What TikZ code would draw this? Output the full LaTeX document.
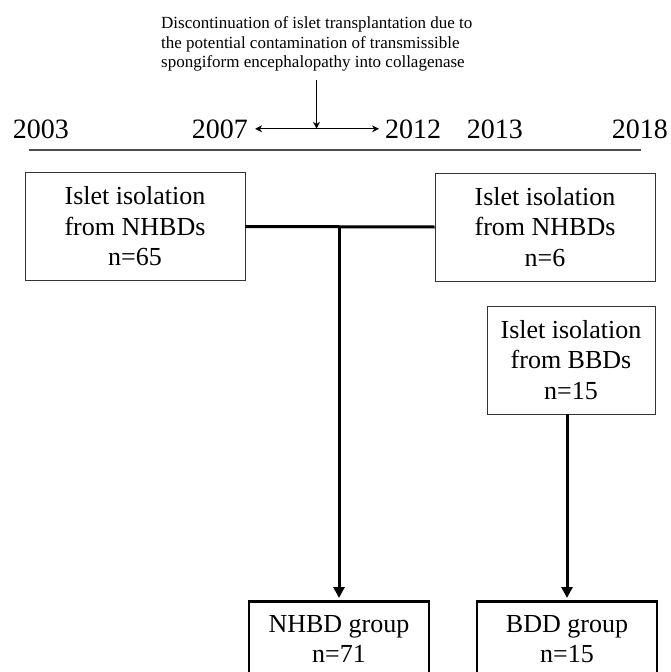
\documentclass[tikz,border=0pt]{standalone}
\usepackage{fontspec}
\setmainfont{Liberation Serif}
\usetikzlibrary{arrows.meta,positioning,calc}

\begin{document}
\begin{tikzpicture}[x=1bp, y=-1bp,
    yearlabel/.style={anchor=base west, inner sep=0pt, font=\fontsize{28bp}{32bp}\selectfont},
    isobox/.style={draw=black!80, line width=0.9bp, minimum width=#1, minimum height=108bp, inner sep=0pt, align=center, font=\fontsize{26bp}{30.5bp}\selectfont},
    isobox/.default=220bp,
    groupbox/.style={draw=black, line width=2.6bp, minimum width=180bp, inner ysep=14bp, align=center, anchor=north, font=\fontsize{26bp}{30.5bp}\selectfont},
    flowline/.style={line width=3bp},
    thinarrow/.style={line width=0.9bp}
]
    \useasboundingbox (0,0) rectangle (671,672);
    \clip (0,0) rectangle (671,672);

    % Note above the timeline
    \node[anchor=north west, inner sep=0pt, align=left, font=\fontsize{17bp}{19.5bp}\selectfont] (note) at (161,16.5)
        {Discontinuation of islet transplantation due to\\the potential contamination of transmissible\\spongiform encephalopathy into collagenase};

    % Years and timeline
    \node[yearlabel] (y2003) at (12.7,138) {2003};
    \node[yearlabel] (y2007) at (191.7,138) {2007};
    \node[yearlabel] (y2012) at (385,138) {2012};
    \node[yearlabel] (y2013) at (466.7,138) {2013};
    \node[yearlabel] (y2018) at (611.7,138) {2018};
    \draw[line width=1.4bp, draw=black!70] (29,150) -- (641,150);

    % Interruption 2007 -- 2012
    \draw[thinarrow, {Stealth[length=7bp,width=7bp]}-{Stealth[length=7bp,width=7bp]}, shorten <=7bp, shorten >=6bp] (y2007.east) -- (y2012.west);
    \coordinate (mid) at ($(y2007.east)!0.5!(y2012.west)$);
    \draw[thinarrow, -{Stealth[length=7bp,width=7bp]}] ([yshift=-8bp]note.south -| mid) -- (mid);

    % Isolation boxes
    \node[isobox] (nhbdA) at (135,226.5) {Islet isolation\\from NHBDs\\n=65};
    \node[isobox] (nhbdB) at (545,227) {Islet isolation\\from NHBDs\\n=6};
    \node[isobox=168bp] (bbd) at (571,360) {Islet isolation\\from BBDs\\n=15};

    % Group boxes (cut by the lower edge)
    \node[groupbox] (nhbdgroup) at (339,600) {NHBD group\\n=71};
    \node[groupbox] (bddgroup) at (567,600) {BDD group\\n=15};

    % Connectors
    \draw[flowline] (nhbdA.east) -- (nhbdB.west);
    \draw[flowline, -{Triangle[length=11bp,width=11bp]}, shorten >=2bp] (nhbdA.east -| nhbdgroup.north) -- (nhbdgroup.north);
    \draw[flowline, -{Triangle[length=11bp,width=11bp]}, shorten >=2bp] (bbd.south -| bddgroup.north) -- (bddgroup.north);
\end{tikzpicture}
\end{document}
